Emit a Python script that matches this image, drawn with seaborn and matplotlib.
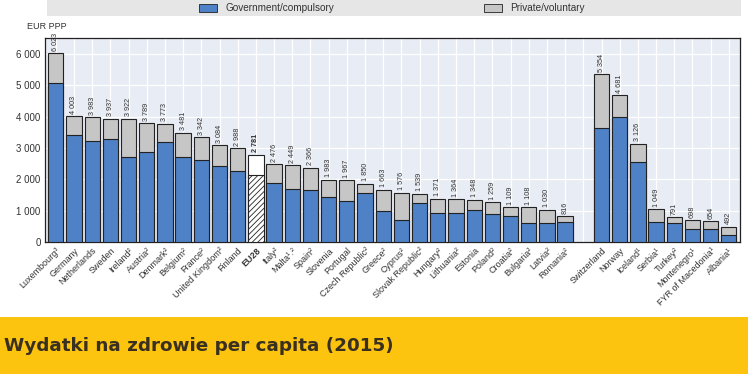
import numpy as np
import pandas as pd
import seaborn as sns
import matplotlib.pyplot as plt
from matplotlib.patches import Rectangle, Patch

# data (EUR PPP per capita, 2015)
eu_countries = ["Luxembourg³", "Germany", "Netherlands", "Sweden", "Ireland²", "Austria²",
                "Denmark²", "Belgium²", "France²", "United Kingdom²", "Finland", "EU28",
                "Italy²", "Malta¹˒²", "Spain²", "Slovenia", "Portugal", "Czech Republic²",
                "Greece²", "Cyprus²", "Slovak Republic²", "Hungary²", "Lithuania²", "Estonia",
                "Poland²", "Croatia²", "Bulgaria²", "Latvia²", "Romania²"]
eu_total = [6023, 4003, 3983, 3937, 3922, 3789, 3773, 3481, 3342, 3084, 2988, 2781,
            2476, 2449, 2366, 1983, 1967, 1850, 1663, 1576, 1539, 1371, 1364, 1348,
            1259, 1109, 1108, 1030, 816]
eu_gov = [5054, 3408, 3216, 3280, 2697, 2866, 3175, 2697, 2611, 2430, 2250, 2134,
          1879, 1677, 1645, 1423, 1296, 1560, 997, 700, 1232, 913, 913, 1009,
          881, 828, 594, 605, 626]

other_countries = ["Switzerland", "Norway", "Iceland¹", "Serbia¹", "Turkey²", "Montenegro¹",
                   "FYR of Macedonia¹", "Albania¹"]
other_total = [5354, 4681, 3126, 1049, 791, 698, 654, 492]
other_gov = [3620, 3971, 2537, 648, 594, 404, 404, 223]

yticks = [0, 1000, 2000, 3000, 4000, 5000, 6000]

# build one frame with an empty spacer between the two groups
df = pd.DataFrame({
    "country": eu_countries + [" "] + other_countries,
    "total": eu_total + [np.nan] + other_total,
    "gov": eu_gov + [np.nan] + other_gov,
})
order = list(df["country"])

blue = "#4f81c6"
grey = "#c6c6c6"
edge = "#222222"

sns.set_theme(style="white")
plt.rcParams["font.family"] = ["Liberation Sans", "DejaVu Sans"]
plt.rcParams["hatch.linewidth"] = 0.6

fig = plt.figure(figsize=(7.48, 3.74), dpi=100)
ax = fig.add_axes([0.060, 0.353, 0.929, 0.545])
ax.set_facecolor("#e8ecf4")

sns.barplot(data=df, x="country", y="total", order=order, color=grey, width=0.84,
            edgecolor=edge, linewidth=0.8, saturation=1, ax=ax, zorder=3)
first = list(ax.patches)
sns.barplot(data=df, x="country", y="gov", order=order, color=blue, width=0.84,
            edgecolor=edge, linewidth=0.8, saturation=1, ax=ax, zorder=3)
second = [p for p in ax.patches if p not in first]

# EU28 drawn white with hatched public part
eu_idx = order.index("EU28")


def bar_at(patches, idx):
    for p in patches:
        if abs(p.get_x() + p.get_width() / 2 - idx) < 0.01:
            return p


bar_at(first, eu_idx).set_facecolor("white")
eu_gov_bar = bar_at(second, eu_idx)
eu_gov_bar.set_facecolor("white")
eu_gov_bar.set_hatch("//////")

n = len(order)

# totals above bars
for i, row in df.iterrows():
    if np.isnan(row["total"]):
        continue
    lab = f"{int(row['total']):,}".replace(",", " ")
    ax.text(i, row["total"] + 80, lab, rotation=90, ha="center", va="bottom",
            fontsize=5.2, color="#333333",
            fontweight="bold" if row["country"] == "EU28" else "normal")

ax.set_ylim(0, 6500)
ax.set_xlim(-0.6, n - 0.4)
ax.set_yticks(yticks)
ax.set_yticklabels([f"{v:,}".replace(",", " ") for v in yticks], fontsize=7, color="#333333")
ax.set_xticks(range(n))
ax.set_xticklabels(order, rotation=45, ha="right", rotation_mode="anchor",
                   fontsize=6.5, color="#333333")
for t in ax.get_xticklabels():
    if t.get_text() == "EU28":
        t.set_fontweight("bold")
ax.tick_params(axis="both", length=0, pad=3)
ax.set_xlabel("")
ax.set_ylabel("")

# white grid behind bars
ax.grid(True, axis="both", color="white", linewidth=0.9, zorder=0)
ax.set_axisbelow(True)
for s in ax.spines.values():
    s.set_color(edge)
    s.set_linewidth(0.9)

fig.text(0.036, 0.918, "EUR PPP", fontsize=6.5, color="#333333", ha="left", va="bottom")

# legend strip
fig.patches.append(Rectangle((0.063, 0.957), 0.927, 0.043, transform=fig.transFigure,
                             facecolor="#e6e6e6", edgecolor="none", zorder=0))
handles = [Patch(facecolor=blue, edgecolor=edge, linewidth=0.6, label="Government/compulsory"),
           Patch(facecolor=grey, edgecolor=edge, linewidth=0.6, label="Private/voluntary")]
fig.legend(handles=handles, loc="center", bbox_to_anchor=(0.524, 0.978), ncol=2,
           frameon=False, fontsize=7.2, handlelength=1.8, handleheight=0.9,
           columnspacing=15, borderpad=0, labelcolor="#333333")

# yellow title banner
fig.patches.append(Rectangle((0, 0), 1, 0.152, transform=fig.transFigure,
                             facecolor="#fcc30f", edgecolor="none", zorder=0))
fig.text(0.006, 0.076, "Wydatki na zdrowie per capita (2015)", fontsize=13.2,
         fontweight="bold", color="#3a3020", ha="left", va="center",
         family=["DejaVu Sans"])

fig.savefig("out.png", dpi=100)
